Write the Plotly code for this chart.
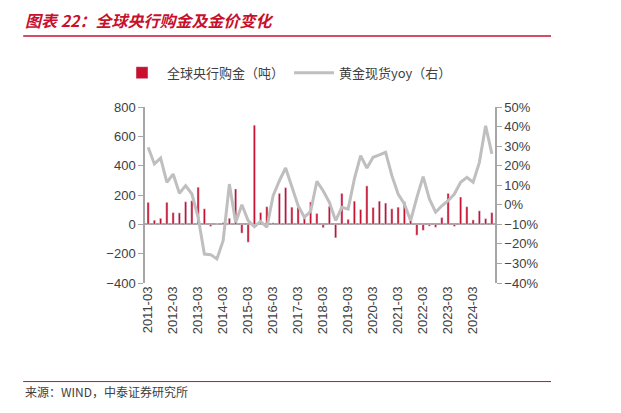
import plotly.graph_objects as go

quarters = [f"{y}-{m}" for y in range(2011, 2025) for m in ("03", "06", "09", "12")]
purchases = [150, 28, 41, 150, 80, 78, 154, 161, 253, 106, -14, 5, 11, 41, 241, -60, -122, 676, 80, 120,
             10, 211, 250, 117, 117, 50, 152, 74, -23, 124, -92, 211, 34, 158, 101, 262, 115, 158, 145, 106,
             117, 154, 28, -74, -41, -12, -20, 46, 211, -14, 186, 120, 30, 92, 39, 80]
gold_yoy = [29.4, 20.9, 23.9, 11.5, 15.7, 5.9, 9.8, 5.5, -6.4, -25.2, -25.5, -27.7, -18.4, 10.6, -9, 0,
            -8.1, -11.2, -8.5, -11.5, 4.7, 12.3, 18.8, 8.9, -0.5, -6.4, -3.3, 12, 7.2, 1.3, -8.1, -1.3,
            -2.2, 13.2, 25.1, 18.8, 24.3, 25.5, 26.8, 14.9, 5.5, 0.4, -8.1, 3.8, 14.4, 3, -3.8, -0.5,
            2.1, 5.5, 11.5, 14, 11.5, 21.7, 40.4, 26]
tick_labels = [q for q in quarters if q.endswith("-03")]

red = "#C8102E"
fig = go.Figure()
fig.add_bar(x=quarters, y=purchases, name="全球央行购金（吨）", marker_color=red, width=0.35)
fig.add_scatter(x=quarters, y=gold_yoy, name="黄金现货yoy（右）", yaxis="y2", mode="lines",
                line=dict(color="#BFBFBF", width=3))

font = "Noto Sans CJK SC"
axis_font = dict(family="Arial, Liberation Sans", size=13, color="#404040")
fig.update_layout(
    width=621, height=413, margin=dict(l=137, r=134, t=99, b=138),
    paper_bgcolor="white", plot_bgcolor="white", bargap=0.6,
    font=dict(family=font, color="#404040"),
    showlegend=True,
    legend=dict(orientation="h", x=-0.08, y=1.28, xanchor="left", yanchor="top",
                font=dict(family=font, size=13, color="#404040"), itemwidth=40),
    xaxis=dict(type="category", tickvals=tick_labels, ticktext=tick_labels, tickangle=-90,
               tickfont=axis_font, showline=False, ticks="", showgrid=False),
    yaxis=dict(range=[-400, 800], dtick=200, tickfont=axis_font, showgrid=False, zeroline=True,
               zerolinecolor="#A6A6A6", zerolinewidth=1.5, showline=True, linecolor="#A6A6A6",
               linewidth=1.5, ticks="outside", tickcolor="#A6A6A6", ticklen=5),
    yaxis2=dict(range=[-40, 50], dtick=10, overlaying="y", side="right", ticksuffix="%",
                tickfont=axis_font, showgrid=False, zeroline=False, showline=True, linecolor="#A6A6A6",
                linewidth=1.5, ticks="outside", tickcolor="#A6A6A6", ticklen=5),
    annotations=[
        dict(text="<b><i>图表 22：全球央行购金及金价变化</i></b>", xref="paper", yref="paper",
             x=-0.348, y=1.415, xanchor="left", yanchor="bottom", showarrow=False,
             font=dict(family=font, size=16, color=red)),
        dict(text="来源：WIND，中泰证券研究所", xref="paper", yref="paper", x=-0.348, y=-0.555,
             xanchor="left", yanchor="top", showarrow=False,
             font=dict(family=font, size=12, color="#404040")),
    ],
    shapes=[
        dict(type="line", xref="paper", yref="paper", x0=-0.348, x1=1.16, y0=1.404, y1=1.404,
             line=dict(color=red, width=1.5)),
        dict(type="line", xref="paper", yref="paper", x0=-0.348, x1=1.16, y0=-0.56, y1=-0.56,
             line=dict(color=red, width=1)),
    ],
)
fig.write_html("out.html")
